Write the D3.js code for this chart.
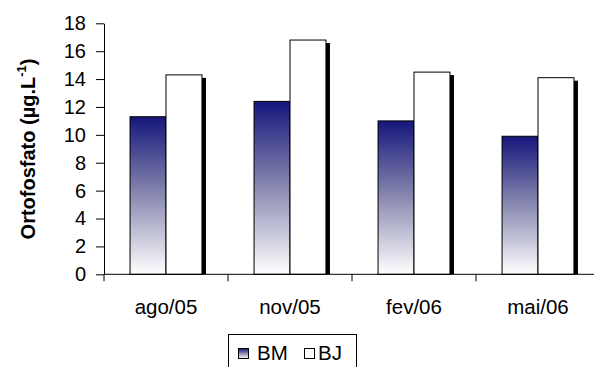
<!DOCTYPE html>
<html>
<head>
<meta charset="utf-8">
<script src="https://cdn.jsdelivr.net/npm/d3@7"></script>
<style>
  html, body { margin: 0; padding: 0; background: #fff; }
  svg { display: block; font-family: "Liberation Sans", Arial, sans-serif; }
</style>
</head>
<body>
<svg id="chart" width="594" height="367"></svg>
<script>
// Orthophosphate by sampling date, two sites
const categories = ["ago/05", "nov/05", "fev/06", "mai/06"];
const seriesNames = ["BM", "BJ"];
const valuesBM = [11.3, 12.4, 11.0, 9.9];
const valuesBJ = [14.3, 16.8, 14.5, 14.1];
const yTicks = [0, 2, 4, 6, 8, 10, 12, 14, 16, 18];

const FONT = "Liberation Sans, Arial, sans-serif";
const svg = d3.select("#chart");

const plot = { left: 104, right: 600, top: 23.3, bottom: 274.3 };

const x = d3.scaleBand()
  .domain(categories)
  .range([plot.left, plot.right])
  .paddingInner(0.42)
  .paddingOuter(0.21);

const xs = d3.scaleBand()
  .domain(seriesNames)
  .range([0, x.bandwidth()]);

const y = d3.scaleLinear()
  .domain([0, 18])
  .range([plot.bottom, plot.top]);

// Vertical fade for BM bars: navy at the top, white at the base
const defs = svg.append("defs");
const grad = defs.append("linearGradient")
  .attr("id", "bmFill")
  .attr("x1", 0).attr("y1", 0).attr("x2", 0).attr("y2", 1);
grad.append("stop").attr("offset", "0%").attr("stop-color", "#16167c");
grad.append("stop").attr("offset", "45%").attr("stop-color", "#7e7eaa");
grad.append("stop").attr("offset", "100%").attr("stop-color", "#ffffff");

const rows = categories.map((c, i) => ({ cat: c, BM: valuesBM[i], BJ: valuesBJ[i] }));

const fills = { BM: "url(#bmFill)", BJ: "#ffffff" };

// Drop shadows first, then bars on top
seriesNames.forEach(s => {
  svg.append("g").selectAll("rect")
    .data(rows)
    .join("rect")
    .attr("x", d => x(d.cat) + xs(s) + 4)
    .attr("y", d => y(d[s]) + 3)
    .attr("width", xs.bandwidth())
    .attr("height", d => plot.bottom - y(d[s]) - 3)
    .attr("fill", "#000");
  svg.append("g").selectAll("rect")
    .data(rows)
    .join("rect")
    .attr("x", d => x(d.cat) + xs(s))
    .attr("y", d => y(d[s]))
    .attr("width", xs.bandwidth())
    .attr("height", d => plot.bottom - y(d[s]))
    .attr("fill", fills[s])
    .attr("stroke", "#000")
    .attr("stroke-width", 1);
});

// Y axis
const yAxis = svg.append("g")
  .attr("transform", `translate(${plot.left},0)`)
  .call(d3.axisLeft(y).tickValues(yTicks).tickSize(8).tickPadding(10).tickSizeOuter(0));
yAxis.select(".domain").attr("stroke", "#000");
yAxis.selectAll(".tick line").attr("stroke", "#000");
yAxis.selectAll("text")
  .attr("font-size", 20)
  .attr("fill", "#000")
  .attr("font-family", FONT);

// X axis with category boundary ticks below the baseline
const xAxisG = svg.append("g");
xAxisG.append("line")
  .attr("x1", plot.left).attr("x2", plot.right)
  .attr("y1", plot.bottom).attr("y2", plot.bottom)
  .attr("stroke", "#000");
const bounds = categories.map(c => x(c) - x.step() * x.paddingInner() / 2);
xAxisG.selectAll("line.bound")
  .data(bounds)
  .join("line")
  .attr("class", "bound")
  .attr("x1", d => d).attr("x2", d => d)
  .attr("y1", plot.bottom).attr("y2", plot.bottom + 7)
  .attr("stroke", "#000");
xAxisG.selectAll("text")
  .data(categories)
  .join("text")
  .attr("x", d => x(d) + x.bandwidth() / 2)
  .attr("y", 313.5)
  .attr("text-anchor", "middle")
  .attr("font-size", 20.5)
  .attr("fill", "#000")
  .text(d => d);

// Y axis title
const title = svg.append("text")
  .attr("transform", "translate(35,149) rotate(-90)")
  .attr("text-anchor", "middle")
  .attr("font-size", 20)
  .attr("font-weight", "bold")
  .attr("fill", "#000");
title.append("tspan").text("Ortofosfato (µg.L");
title.append("tspan").attr("dy", -9).attr("font-size", 13).text("-1");
title.append("tspan").attr("dy", 9).text(")");

// Legend
const legend = svg.append("g");
legend.append("rect")
  .attr("x", 228.5).attr("y", 334.5)
  .attr("width", 128).attr("height", 40)
  .attr("fill", "#fff")
  .attr("stroke", "#000");
const legendItems = [
  { name: "BM", sx: 238, tx: 257 },
  { name: "BJ", sx: 304, tx: 318 }
];
legend.selectAll("rect.sw")
  .data(legendItems)
  .join("rect")
  .attr("class", "sw")
  .attr("x", d => d.sx + 0.5).attr("y", 348.5)
  .attr("width", 10).attr("height", 10)
  .attr("fill", d => fills[d.name])
  .attr("stroke", "#000");
legend.selectAll("text")
  .data(legendItems)
  .join("text")
  .attr("x", d => d.tx)
  .attr("y", 359.5)
  .attr("font-size", 20.5)
  .attr("fill", "#000")
  .text(d => d.name);
</script>
</body>
</html>
